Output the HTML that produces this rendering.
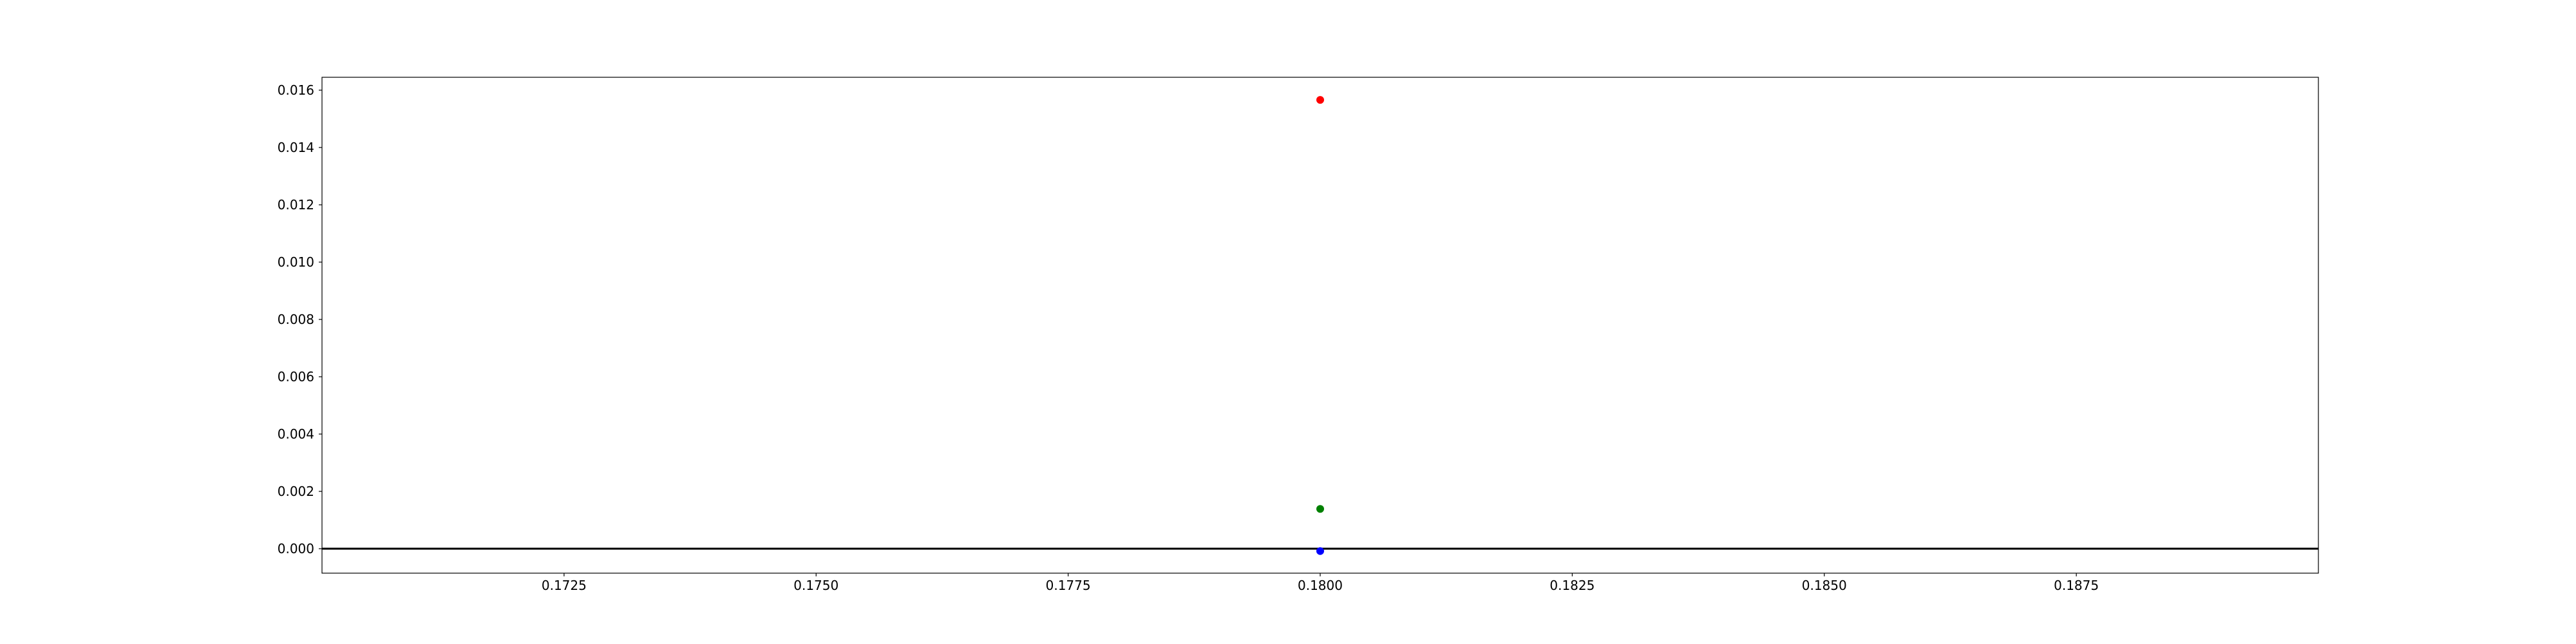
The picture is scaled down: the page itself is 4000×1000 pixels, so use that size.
<!DOCTYPE html>
<html><head><meta charset="utf-8"><style>
html,body{margin:0;padding:0;background:#fff;}
svg{display:block;font-family:"DejaVu Sans","Liberation Sans",sans-serif;}
</style></head><body>
<svg id="chart" width="4000" height="1000" xmlns="http://www.w3.org/2000/svg">
<rect width="4000" height="1000" fill="#fff"/>
<g id="plot"></g>
</svg>
<script>
const xVals = [0.18, 0.18, 0.18];
const yVals = [0.01566, 0.001387, -0.000083];
const colors = ['red', 'green', 'blue'];
const seriesNames = ['red-point', 'green-point', 'blue-point'];
const xTicks = [0.1725, 0.1750, 0.1775, 0.1800, 0.1825, 0.1850, 0.1875];
const yTicks = [0.000, 0.002, 0.004, 0.006, 0.008, 0.010, 0.012, 0.014, 0.016];
const xDomain = [0.170099, 0.189901];
const yDomain = [-0.000854, 0.01645];

const L = 500, R = 3600, T = 120, B = 890;
const xs = v => L + (v - xDomain[0]) / (xDomain[1] - xDomain[0]) * (R - L);
const ys = v => B - (v - yDomain[0]) / (yDomain[1] - yDomain[0]) * (B - T);
const NS = 'http://www.w3.org/2000/svg';
const g = document.getElementById('plot');
function mk(tag, attrs) {
  const e = document.createElementNS(NS, tag);
  for (const k in attrs) e.setAttribute(k, attrs[k]);
  g.appendChild(e);
  return e;
}
// zero line
const zl = mk('line', {x1: L, x2: R, y1: ys(0), y2: ys(0), stroke: '#000', 'stroke-width': 3});


// points
xVals.forEach((x, i) => {
  const c = mk('circle', {cx: xs(x), cy: ys(yVals[i]), r: 6, fill: colors[i]});
  
  
});
// frame
const fr = mk('rect', {x: L, y: T, width: R - L, height: B - T, fill: 'none', stroke: '#000', 'stroke-width': 1.2});


// x ticks
xTicks.forEach(t => {
  const x = xs(t);
  const tk = mk('line', {x1: x, x2: x, y1: B, y2: B + 5, stroke: '#000', 'stroke-width': 1.2});
  
  
  const tx = mk('text', {x: x, y: 916, 'font-size': 20, 'text-anchor': 'middle', fill: '#000'});
  tx.textContent = t.toFixed(4);
  
  
});
// y ticks
yTicks.forEach(t => {
  const y = ys(t);
  const tk = mk('line', {x1: L - 5, x2: L, y1: y, y2: y, stroke: '#000', 'stroke-width': 1.2});
  
  
  const tx = mk('text', {x: 488, y: y + 7, 'font-size': 20, 'text-anchor': 'end', fill: '#000'});
  tx.textContent = t.toFixed(3);
  
  
});
</script>
</body></html>
